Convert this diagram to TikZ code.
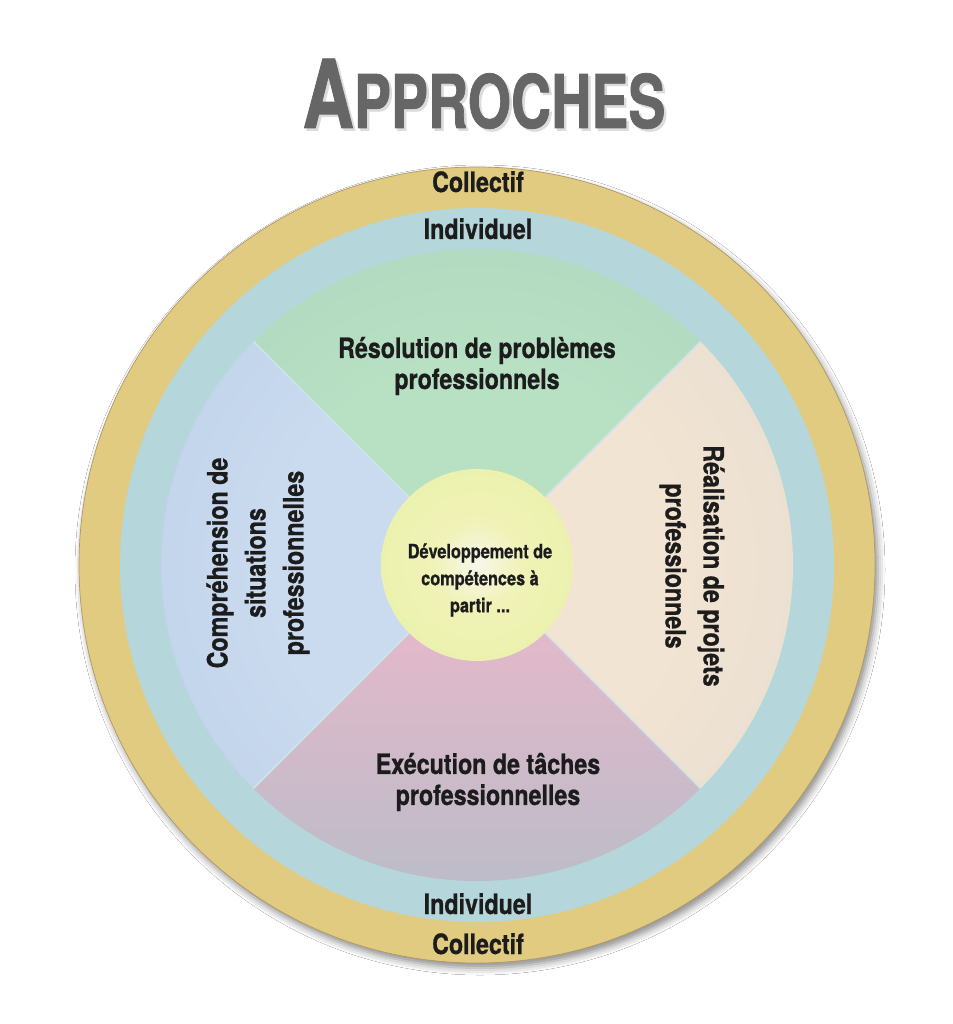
\documentclass[tikz,border=0pt]{standalone}
\usepackage{fontspec}
\newfontfamily\cnd[FakeStretch=0.83, BoldFeatures={FakeBold=0.8}]{TeX Gyre Heros}
\newfontfamily\ttlfont[FakeStretch=0.75, BoldFeatures={FakeBold=1}]{TeX Gyre Heros}
\usetikzlibrary{shadows.blur}
\definecolor{gold}{HTML}{E0CB80}
\definecolor{goldedge}{HTML}{B09868}
\definecolor{ringteal}{HTML}{B5D7DB}
\definecolor{sepline}{HTML}{CBE5E6}
\definecolor{txt}{HTML}{1C1C1C}
\definecolor{ttlgray}{HTML}{666666}
\definecolor{ttlshadow}{HTML}{DCDCDC}
\definecolor{gIn}{HTML}{B8E0C3}\definecolor{gOut}{HTML}{A0CCBA}
\definecolor{bIn}{HTML}{CADBF0}\definecolor{bOut}{HTML}{B2C6DC}
\definecolor{rIn}{HTML}{F2E4D2}\definecolor{rOut}{HTML}{D9D6D0}
\definecolor{pIn}{HTML}{EDB8CB}\definecolor{pMid}{HTML}{DDBACA}\definecolor{pOut}{HTML}{BCBCC8}
\definecolor{cA}{HTML}{F7F7E8}\definecolor{cB}{HTML}{F0F2B6}
\definecolor{cC}{HTML}{E8F1AA}\definecolor{cD}{HTML}{D4ECC0}
\pgfdeclareradialshading{shgreen}{\pgfpoint{0bp}{0bp}}{color(0bp)=(gIn); color(16bp)=(gIn); color(50bp)=(gOut)}
\pgfdeclareradialshading{shblue}{\pgfpoint{0bp}{0bp}}{color(0bp)=(bIn); color(16bp)=(bIn); color(50bp)=(bOut)}
\pgfdeclareradialshading{shbeige}{\pgfpoint{0bp}{0bp}}{color(0bp)=(rIn); color(16bp)=(rIn); color(50bp)=(rOut)}
\pgfdeclareradialshading{shcenter}{\pgfpoint{0bp}{0bp}}{color(0bp)=(cA); color(12bp)=(cB); color(35bp)=(cC); color(50bp)=(cD)}
\tikzset{
  lbl/.style={text=txt, font=\cnd\bfseries\fontsize{28}{31}\selectfont, inner sep=0pt},
  lblrot/.style={text=txt, font=\cnd\bfseries\fontsize{28}{38}\selectfont, inner sep=0pt, align=center},
  lblc/.style={text=txt, font=\cnd\bfseries\fontsize{19.6}{27}\selectfont, inner sep=0pt, align=center},
  sep/.style={draw=sepline, line width=1.6pt},
  ttl/.style={inner sep=0pt, font=\ttlfont\bfseries}
}
\begin{document}
\begin{tikzpicture}[x=1pt,y=1pt]
\useasboundingbox (0,0) rectangle (952,-1024);
\fill[white] (0,0) rectangle (952,-1024);
\coordinate (C) at (477,-565);
% title
\node[ttl, text=ttlshadow, anchor=base] (titleshadow) at (486.5,-130.5)
  {\fontsize{95}{95}\selectfont A\fontsize{74}{74}\selectfont PPROCHES};
\node[ttl, text=ttlgray, anchor=base] (title) at (484,-128)
  {\fontsize{95}{95}\selectfont A\fontsize{74}{74}\selectfont PPROCHES};
% rings
\fill[gold, draw=goldedge, line width=0.7pt,
  blur shadow={shadow xshift=3pt, shadow yshift=-5pt, shadow blur radius=7pt, shadow opacity=45}]
  (C) circle[radius=398];
\fill[ringteal] (C) circle[radius=357];
% quadrants
\begin{scope}
\clip (C) -- ++(45:316) arc[start angle=45,end angle=135,radius=316] -- cycle;
\shade[shading=shgreen] (C) circle[radius=316];
\end{scope}
\begin{scope}
\clip (C) -- ++(135:316) arc[start angle=135,end angle=225,radius=316] -- cycle;
\shade[shading=shblue] (C) circle[radius=316];
\end{scope}
\begin{scope}
\clip (C) -- ++(225:316) arc[start angle=225,end angle=315,radius=316] -- cycle;
\shade[top color=pIn, middle color=pMid, bottom color=pOut] ([shift={(-320,0)}]C) rectangle ([shift={(320,-318)}]C);
\end{scope}
\begin{scope}
\clip (C) -- ++(-45:316) arc[start angle=-45,end angle=45,radius=316] -- cycle;
\shade[shading=shbeige] (C) circle[radius=316];
\end{scope}
\foreach \a in {45,135,225,315}{\draw[sep] (C) -- ++(\a:316);}
% centre
\shade[shading=shcenter] (C) circle[radius=96];
% ring labels
\node[lbl, anchor=base] (coltop) at (478,-192) {Collectif};
\node[lbl, anchor=base] (indtop) at (478,-239) {Individuel};
\node[lbl, anchor=base] (indbot) at (478,-914) {Individuel};
\node[lbl, anchor=base] (colbot) at (478,-954) {Collectif};
% quadrant labels
\node[lbl, align=center] (resol) at (477,-366) {Résolution de problèmes\\professionnels};
\node[lbl, align=center] (exec) at (488,-782) {Exécution de tâches\\professionnelles};
\node[lblrot, rotate=90] (compr) at (258,-563) {Compréhension de\\situations\\professionnelles};
\node[lblrot, rotate=-90] (realis) at (692,-566) {Réalisation de projets\\professionnels};
% centre label
\node[lblc] (centre) at (480,-580) {Développement de\\compétences à\\partir ...};
\end{tikzpicture}
\end{document}
